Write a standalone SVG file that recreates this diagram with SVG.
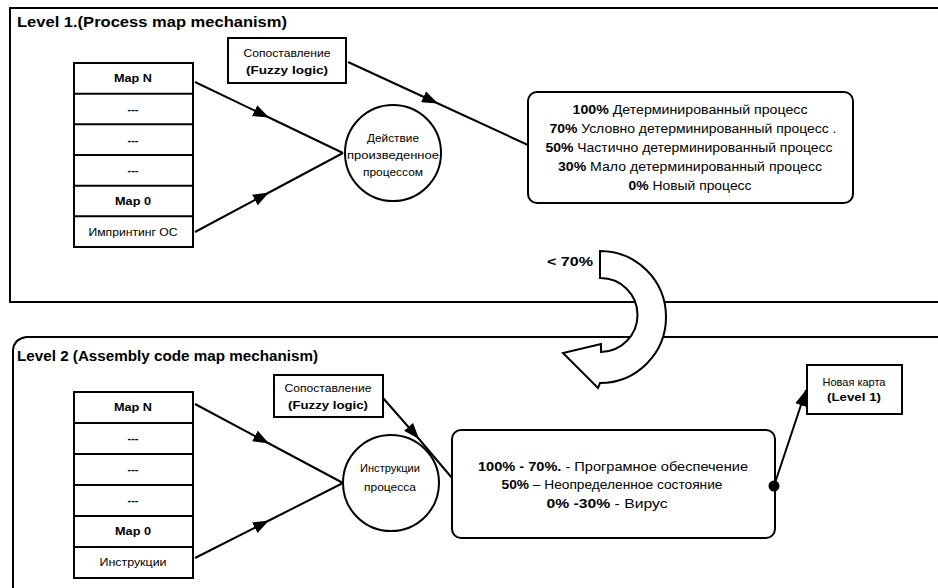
<svg xmlns="http://www.w3.org/2000/svg" width="938" height="588" viewBox="0 0 938 588">
<style>
  text { font-family: "Liberation Sans", Arial, sans-serif; fill: #000; }
  .title { font-size: 15px; font-weight: bold; }
  .lbl { font-size: 11px; text-anchor: middle; }
  .b { font-weight: bold; }
  .res { font-size: 12px; text-anchor: middle; }
  .box { fill: #fff; stroke: #000; stroke-width: 2; }
  .frame { fill: none; stroke: #000; stroke-width: 2; }
  .conn { fill: none; stroke: #000; stroke-width: 2; }
</style>
<defs>
  <marker id="tri" viewBox="0 0 16 12" refX="16" refY="6" markerWidth="16" markerHeight="12" markerUnits="userSpaceOnUse" orient="auto">
    <path d="M0,0 L16,6 L0,12 Z" fill="#000"/>
  </marker>
  <marker id="dot" viewBox="0 0 12 12" refX="6" refY="6" markerWidth="11" markerHeight="11" markerUnits="userSpaceOnUse" orient="auto">
    <circle cx="6" cy="6" r="5.5" fill="#000"/>
  </marker>
</defs>
<rect width="938" height="588" fill="#fff"/>

<g id="frame1">
  <path class="frame" d="M940 8 L10 8 L10 302 L940 302"/>
  <text class="title" x="17" y="27" textLength="270" lengthAdjust="spacingAndGlyphs">Level 1.(Process map mechanism)</text>
</g>
<g id="frame2">
  <path class="frame" d="M940 337 L26 337 Q14 339 13 350 L13 590"/>
  <text class="title" x="17" y="361" textLength="301" lengthAdjust="spacingAndGlyphs">Level 2 (Assembly code map mechanism)</text>
</g>

<g id="connectors">
  <polyline class="conn" points="195,82 269,117.5 343,153" marker-mid="url(#tri)"/>
  <polyline class="conn" points="195,232 269,192.5 343,153" marker-mid="url(#tri)"/>
  <polyline class="conn" points="348,62 438,103.5 528,145" marker-mid="url(#tri)"/>
  <polyline class="conn" points="195,404 269,443.5 343,483" marker-mid="url(#tri)"/>
  <polyline class="conn" points="195,558 269,520.5 343,483" marker-mid="url(#tri)"/>
  <polyline class="conn" points="383,398 419,439 452,478" marker-mid="url(#tri)"/>
  <line class="conn" x1="774" y1="486" x2="806" y2="390" marker-start="url(#dot)" marker-end="url(#tri)"/>
</g>

<g id="stack1">
  <rect class="box" x="74" y="63" width="119" height="184"/>
  <g class="conn">
    <line x1="74" y1="93.7" x2="193" y2="93.7"/>
    <line x1="74" y1="124.3" x2="193" y2="124.3"/>
    <line x1="74" y1="155" x2="193" y2="155"/>
    <line x1="74" y1="185.7" x2="193" y2="185.7"/>
    <line x1="74" y1="216.3" x2="193" y2="216.3"/>
  </g>
  <text class="lbl b" x="133" y="82" textLength="38" lengthAdjust="spacingAndGlyphs">Map N</text>
  <text class="lbl b" x="133" y="113">---</text>
  <text class="lbl b" x="133" y="144">---</text>
  <text class="lbl b" x="133" y="174">---</text>
  <text class="lbl b" x="133" y="205" textLength="36" lengthAdjust="spacingAndGlyphs">Map 0</text>
  <text class="lbl" x="133" y="236" textLength="89" lengthAdjust="spacingAndGlyphs">Импринтинг ОС</text>
</g>

<g id="fuzzy1">
  <rect class="box" x="228" y="38" width="118" height="45"/>
  <text class="lbl" x="287" y="57" font-size="10" textLength="87" lengthAdjust="spacingAndGlyphs">Сопоставление</text>
  <text class="lbl b" x="287" y="74" textLength="82" lengthAdjust="spacingAndGlyphs">(Fuzzy logic)</text>
</g>

<g id="action1">
  <circle class="box" cx="393" cy="153" r="48"/>
  <text class="lbl" x="393" y="142" font-size="10" textLength="52" lengthAdjust="spacingAndGlyphs">Действие</text>
  <text class="lbl" x="393" y="159" font-size="10" textLength="92" lengthAdjust="spacingAndGlyphs">произведенное</text>
  <text class="lbl" x="393" y="176" font-size="10" textLength="60" lengthAdjust="spacingAndGlyphs">процессом</text>
</g>

<g id="result1">
  <rect class="box" x="528" y="92" width="325" height="111" rx="9"/>
  <text class="res" x="690" y="114" textLength="235" lengthAdjust="spacingAndGlyphs"><tspan class="b">100%</tspan> Детерминированный процесс</text>
  <text class="res" x="693" y="133" textLength="287" lengthAdjust="spacingAndGlyphs"><tspan class="b">70%</tspan> Условно детерминированный процесс .</text>
  <text class="res" x="689" y="152" textLength="287" lengthAdjust="spacingAndGlyphs"><tspan class="b">50%</tspan> Частично детерминированный процесс</text>
  <text class="res" x="690" y="171" textLength="264" lengthAdjust="spacingAndGlyphs"><tspan class="b">30%</tspan> Мало детерминированный процесс</text>
  <text class="res" x="690" y="190" textLength="123" lengthAdjust="spacingAndGlyphs"><tspan class="b">0%</tspan> Новый процесс</text>
</g>

<g id="loop-arrow">
  <path d="M600 251 A66 66 0 0 1 600 383 L598 388 L563 353 L601 344 L601 352 A37 37 0 0 0 600 278 Z" fill="#fff" stroke="#000" stroke-width="2" stroke-linejoin="miter"/>
  <text class="b" x="547" y="266" font-size="12" textLength="46" lengthAdjust="spacingAndGlyphs">&lt; 70%</text>
</g>

<g id="stack2">
  <rect class="box" x="74" y="392" width="119" height="186"/>
  <g class="conn">
    <line x1="74" y1="423" x2="193" y2="423"/>
    <line x1="74" y1="454" x2="193" y2="454"/>
    <line x1="74" y1="485" x2="193" y2="485"/>
    <line x1="74" y1="516" x2="193" y2="516"/>
    <line x1="74" y1="547" x2="193" y2="547"/>
  </g>
  <text class="lbl b" x="133" y="411" textLength="38" lengthAdjust="spacingAndGlyphs">Map N</text>
  <text class="lbl b" x="133" y="442">---</text>
  <text class="lbl b" x="133" y="473">---</text>
  <text class="lbl b" x="133" y="504">---</text>
  <text class="lbl b" x="133" y="535" textLength="36" lengthAdjust="spacingAndGlyphs">Map 0</text>
  <text class="lbl" x="133" y="566" font-size="10" textLength="67" lengthAdjust="spacingAndGlyphs">Инструкции</text>
</g>

<g id="fuzzy2">
  <rect class="box" x="274" y="375" width="109" height="42"/>
  <text class="lbl" x="328" y="392" font-size="10" textLength="87" lengthAdjust="spacingAndGlyphs">Сопоставление</text>
  <text class="lbl b" x="328" y="409" textLength="80" lengthAdjust="spacingAndGlyphs">(Fuzzy logic)</text>
</g>

<g id="action2">
  <circle class="box" cx="391" cy="483" r="48"/>
  <text class="lbl" x="390" y="472" font-size="10" textLength="60" lengthAdjust="spacingAndGlyphs">Инструкции</text>
  <text class="lbl" x="390" y="491" font-size="10" textLength="52" lengthAdjust="spacingAndGlyphs">процесса</text>
</g>

<g id="result2">
  <rect class="box" x="452" y="430" width="323" height="108" rx="9"/>
  <text class="res" x="613" y="471" textLength="270" lengthAdjust="spacingAndGlyphs"><tspan class="b">100% - 70%.</tspan> - Програмное обеспечение</text>
  <text class="res" x="612" y="489" textLength="221" lengthAdjust="spacingAndGlyphs"><tspan class="b">50%</tspan> – Неопределенное состояние</text>
  <text class="res" x="607" y="508" textLength="121" lengthAdjust="spacingAndGlyphs"><tspan class="b">0% -30%</tspan> - Вирус</text>
</g>

<g id="newmap">
  <rect class="box" x="807" y="365" width="95" height="49"/>
  <text class="lbl" x="854" y="386" font-size="10" textLength="63" lengthAdjust="spacingAndGlyphs">Новая карта</text>
  <text class="lbl b" x="854" y="401" textLength="54" lengthAdjust="spacingAndGlyphs">(Level 1)</text>
</g>
<circle cx="774" cy="486" r="5.5" fill="#000"/>
</svg>
